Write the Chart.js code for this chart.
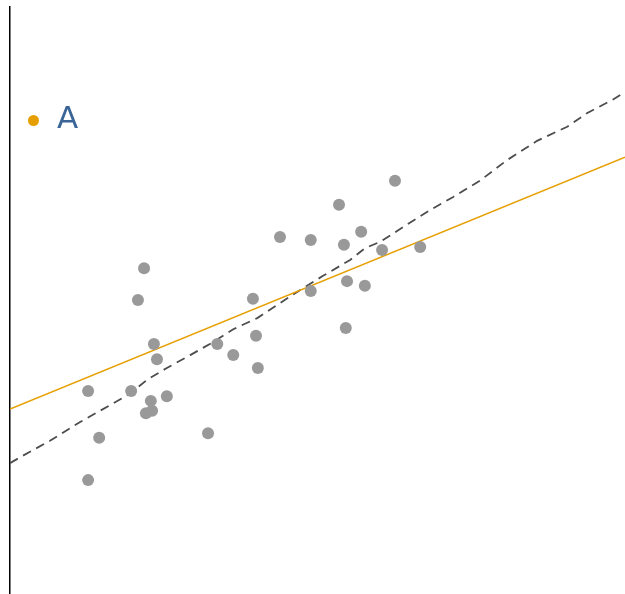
<!DOCTYPE html>
<html>
<head>
<meta charset="utf-8">
<script src="https://cdn.jsdelivr.net/npm/chart.js@4/dist/chart.umd.min.js"></script>
<style>
    html, body { margin: 0; padding: 0; background: #fff; overflow: hidden; }
    #wrap { position: relative; width: 625px; height: 594px; }
    #grafico { display: block; }
    #leyenda-punto { position: absolute; left: 28px; top: 115px; width: 11px; height: 11px; border-radius: 50%; background: #E69F00; }
    #leyenda-texto { position: absolute; left: 57px; top: 97px; font-family: "DejaVu Sans", sans-serif; font-size: 31px; color: #3a6596; line-height: 40px; }
</style>
</head>
<body>
<div id="wrap">
    <canvas id="grafico" width="625" height="594"></canvas>
    <div id="leyenda-punto"></div>
    <div id="leyenda-texto">A</div>
</div>
<script>
// Datos
const puntosX = [12.7, 14.5, 12.7, 19.7, 21.8, 20.8, 23.4, 23.9, 22.9, 22.1, 23.1, 25.5, 32.2, 33.7, 36.3,
    39.5, 40.0, 40.3, 43.9, 48.9, 48.9, 53.5, 54.3, 54.8, 54.6, 57.1, 57.7, 60.5, 62.6, 66.7];
const puntosY = [34.6, 26.6, 19.4, 34.6, 55.5, 50.1, 42.6, 40.0, 32.9, 30.8, 31.2, 33.7, 27.4, 42.6, 40.7,
    50.3, 44.0, 38.5, 60.8, 60.3, 51.6, 66.3, 59.5, 53.3, 45.3, 61.7, 52.5, 58.6, 70.4, 59.1];

// Recta de ajuste (extremos)
const rectaX = [0, 100];
const rectaY = [31.5, 74.4];

// Curva suavizada (línea discontinua)
const curvaX = [0, 2.0, 6.5, 11.4, 16.3, 19.5, 22.3, 25.5, 29.3, 32.5, 36.3, 40.2, 43.4, 47.2, 50.9,
    55.3, 57.7, 60.2, 63.9, 68.3, 72.0, 76.4, 80.8, 85.7, 90.6, 93.8, 98.0, 100];
const curvaY = [22.3, 23.5, 26.1, 29.3, 32.2, 34.1, 36.5, 38.5, 40.7, 42.6, 45.1, 47.0, 49.2, 51.8, 54.2,
    56.9, 58.9, 60.0, 62.5, 65.4, 67.6, 70.4, 73.9, 77.2, 79.6, 81.9, 84.2, 85.5];

const aPares = (xs, ys) => xs.map((x, i) => ({ x: x, y: ys[i] }));

const ctx = document.getElementById('grafico').getContext('2d');

new Chart(ctx, {
    type: 'scatter',
    data: {
        datasets: [
            {
                label: 'puntos',
                data: aPares(puntosX, puntosY),
                backgroundColor: '#999999',
                borderWidth: 0,
                pointRadius: 6
            },
            {
                label: 'A',
                type: 'line',
                data: aPares(rectaX, rectaY),
                borderColor: '#E69F00',
                borderWidth: 1.5,
                pointRadius: 0,
                fill: false
            },
            {
                label: 'suavizado',
                type: 'line',
                data: aPares(curvaX, curvaY),
                borderColor: '#4d4d4d',
                borderWidth: 1.8,
                borderDash: [9, 6],
                pointRadius: 0,
                tension: 0,
                fill: false
            }
        ]
    },
    options: {
        responsive: false,
        animation: false,
        layout: { autoPadding: false, padding: { left: 10, top: 7, right: 0, bottom: 0 } },
        plugins: {
            legend: { display: false },
            tooltip: { enabled: false }
        },
        scales: {
            x: {
                type: 'linear',
                min: 0,
                max: 100,
                display: false
            },
            y: {
                type: 'linear',
                min: 0,
                max: 100,
                ticks: { display: false },
                grid: { display: false, drawTicks: false },
                border: { display: true, color: '#000', width: 1.5 },
                afterFit: (eje) => { eje.width = 0; }
            }
        }
    }
});
</script>
</body>
</html>
